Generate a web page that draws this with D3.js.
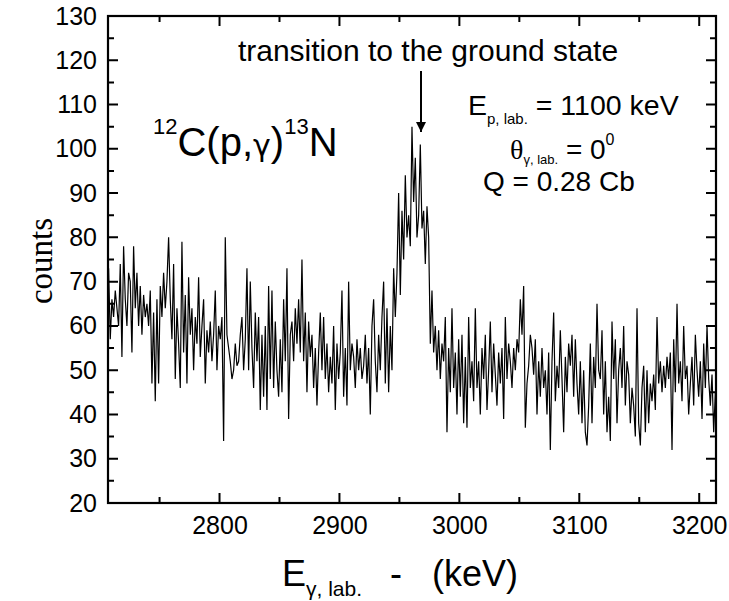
<!DOCTYPE html>
<html>
<head>
<meta charset="utf-8">
<script src="https://cdn.jsdelivr.net/npm/d3@7"></script>
<style>
  body { margin: 0; background: #fff; overflow: hidden; }
  svg { display: block; }
  text { font-family: Arial, "Liberation Sans", sans-serif; fill: #000; }
</style>
</head>
<body>
<svg width="729" height="601"></svg>
<script>
// spectrum channels: energy of channel i = startEnergy + i * keVPerChannel
let startEnergy = 2707.5;
let keVPerChannel = 1.39;
let counts = [
  // 2707 - 2808
  73, 57, 66, 62, 68, 64, 60, 74, 53, 78, 66, 60, 72, 70, 54, 78, 64, 72, 60, 69,
  58, 67, 62, 65, 60, 68, 47, 63, 43, 66, 47, 69, 62, 72, 64, 70, 80, 66, 57, 74,
  48, 64, 56, 46, 79, 54, 67, 47, 71, 58, 64, 50, 62, 56, 71, 53, 60, 66, 47, 59,
  54, 61, 52, 58, 68, 50, 60, 57, 62, 34, 80, 58, 55,
  // 2809 - 2910
  52, 48, 50, 56, 51, 52, 58, 62, 50, 57, 73, 50, 70, 55, 46, 63, 52, 62, 41, 58,
  44, 60, 41, 69, 48, 68, 46, 61, 50, 44, 57, 45, 66, 52, 73, 39, 58, 61, 52, 64,
  56, 66, 54, 75, 52, 63, 45, 61, 53, 58, 46, 55, 42, 54, 63, 50, 62, 48, 56, 45,
  53, 47, 60, 41, 56, 48, 54, 68, 44, 55, 42, 70, 50, 56,
  // 2911 - 3013 (peak)
  53, 46, 57, 50, 55, 48, 51, 58, 47, 55, 40, 60, 66, 52, 45, 58, 50, 62, 70, 47,
  64, 45, 60, 50, 73, 62, 72, 90, 67, 86, 75, 94, 80, 85, 78, 105, 88, 98, 80, 85,
  101, 82, 86, 74, 87, 80, 56, 68, 54, 60, 50, 59, 48, 56, 52, 62, 36, 55, 45, 64,
  46, 54, 40, 57, 44, 58, 38, 53, 37, 62, 46, 52, 43, 64,
  // 3014 - 3116
  46, 52, 40, 55, 48, 58, 41, 50, 61, 45, 56, 49, 42, 54, 47, 55, 39, 62, 48, 56,
  52, 46, 55, 50, 57, 54, 66, 58, 69, 37, 47, 51, 58, 55, 49, 57, 40, 52, 44, 55,
  46, 50, 40, 54, 32, 52, 63, 43, 51, 46, 59, 48, 36, 53, 45, 56, 51, 58, 44, 57,
  47, 40, 52, 38, 50, 36, 33, 42, 56, 38, 53, 46, 65, 50,
  // 3117 - 3214
  48, 59, 40, 52, 36, 44, 34, 61, 48, 57, 38, 50, 55, 46, 60, 42, 52, 49, 38, 46,
  42, 35, 64, 38, 33, 46, 51, 36, 50, 38, 47, 43, 49, 41, 62, 47, 52, 45, 51, 46,
  53, 48, 54, 32, 57, 45, 65, 47, 52, 43, 60, 48, 51, 40, 47, 53, 42, 58, 50, 44,
  52, 39, 56, 46, 60, 48, 42, 49, 36, 45, 35
];

let xTicks = [2800, 2900, 3000, 3100, 3200];
let xMinor = [2750, 2850, 2950, 3050, 3150];
let yTicks = [20, 30, 40, 50, 60, 70, 80, 90, 100, 110, 120, 130];
let yMinor = [25, 35, 45, 55, 65, 75, 85, 95, 105, 115, 125];

let svg = d3.select('svg');
let plotL = 108, plotR = 716, plotT = 16, plotB = 503;

let x = d3.scaleLinear().domain([2707, 3214]).range([plotL, plotR]);
let y = d3.scaleLinear().domain([20, 130]).range([plotB, plotT]);

svg.append('clipPath').attr('id', 'plot')
   .append('rect')
   .attr('x', plotL).attr('y', plotT)
   .attr('width', plotR - plotL).attr('height', plotB - plotT);

// spectrum
let line = d3.line()
  .x((d, i) => x(startEnergy + i * keVPerChannel))
  .y(d => y(d));

svg.append('path')
   .datum(counts)
   .attr('clip-path', 'url(#plot)')
   .attr('d', line)
   .attr('fill', 'none')
   .attr('stroke', '#000')
   .attr('stroke-width', 1.2)
   .attr('stroke-linejoin', 'miter');

// tick labels from d3 axes (tick marks drawn below)
let fmt = d3.format('d');
let styleAxis = g => {
  g.select('.domain').remove();
  g.selectAll('.tick line').remove();
  g.selectAll('text').style('font-family', 'Arial, "Liberation Sans", sans-serif')
   .style('font-size', '25px').attr('fill', '#000');
};

svg.append('g').attr('transform', `translate(0,${plotB})`)
   .call(d3.axisBottom(x).tickValues(xTicks).tickSize(0).tickPadding(13).tickFormat(fmt))
   .call(styleAxis);
svg.append('g').attr('transform', `translate(${plotL},0)`)
   .call(d3.axisLeft(y).tickValues(yTicks).tickSize(0).tickPadding(11).tickFormat(fmt))
   .call(styleAxis);

// inward tick marks on all four sides
let xTickMarks = xTicks.map(v => ({v, len: 10})).concat(xMinor.map(v => ({v, len: 6})));
let yTickMarks = yTicks.map(v => ({v, len: 10})).concat(yMinor.map(v => ({v, len: 6})));
let tickPath = '';
xTickMarks.forEach(d => {
  tickPath += `M${x(d.v)},${plotB}V${plotB - d.len}`;
  tickPath += `M${x(d.v)},${plotT}V${plotT + d.len}`;
});
yTickMarks.forEach(d => {
  tickPath += `M${plotL},${y(d.v)}H${plotL + d.len}`;
  tickPath += `M${plotR},${y(d.v)}H${plotR - d.len}`;
});
svg.append('path')
   .attr('d', tickPath)
   .attr('fill', 'none')
   .attr('stroke', '#000')
   .attr('stroke-width', 2);

// frame
svg.append('rect')
   .attr('x', plotL).attr('y', plotT)
   .attr('width', plotR - plotL).attr('height', plotB - plotT)
   .attr('fill', 'none').attr('stroke', '#000').attr('stroke-width', 2.2);

// axis titles
svg.append('text')
   .attr('transform', 'translate(52,261) rotate(-90)')
   .attr('text-anchor', 'middle')
   .style('font-family', '"Liberation Serif", "Times New Roman", serif')
   .style('font-size', '33px')
   .text('counts');

let xt = svg.append('text').attr('x', 282).attr('y', 586).style('font-size', '36px');
xt.append('tspan').text('E');
xt.append('tspan').attr('dy', 10).style('font-size', '21px').text('γ, lab.');
xt.append('tspan').attr('dy', -10).attr('x', 390).text('-');
xt.append('tspan').attr('x', 432).text('(keV)');

// annotations
svg.append('text')
   .attr('x', 428).attr('y', 61)
   .attr('text-anchor', 'middle')
   .style('font-size', '30px')
   .text('transition to the ground state');

svg.append('defs').append('marker')
   .attr('id', 'head').attr('viewBox', '0 0 10 10')
   .attr('refX', 10).attr('refY', 5)
   .attr('markerWidth', 5).attr('markerHeight', 5)
   .attr('markerUnits', 'strokeWidth')
   .attr('orient', 'auto')
   .append('path').attr('d', 'M0,0 L10,5 L0,10 Z').attr('fill', '#000');

svg.append('line')
   .attr('x1', 421).attr('y1', 71).attr('x2', 421).attr('y2', 132)
   .attr('stroke', '#000').attr('stroke-width', 2)
   .attr('marker-end', 'url(#head)');

let rx = svg.append('text').attr('x', 153).attr('y', 156).style('font-size', '40px');
rx.append('tspan').attr('dy', -22).style('font-size', '22px').text('12');
rx.append('tspan').attr('dy', 22).text('C(p,');
rx.append('tspan').style('font-family', '"DejaVu Sans", sans-serif').style('font-size', '30px').text('γ');
rx.append('tspan').text(')');
rx.append('tspan').attr('dy', -22).style('font-size', '22px').text('13');
rx.append('tspan').attr('dy', 22).text('N');

let ep = svg.append('text').attr('x', 468).attr('y', 115).style('font-size', '28.5px');
ep.append('tspan').text('E');
ep.append('tspan').attr('dy', 9).style('font-size', '15px').text('p, lab.');
ep.append('tspan').attr('dy', -9).text(' = 1100 keV');

let th = svg.append('text').attr('x', 510).attr('y', 159).style('font-size', '28px');
th.append('tspan').style('font-family', '"Liberation Serif", serif').text('θ');
th.append('tspan').attr('dy', 5).style('font-size', '13px').text('γ, lab.');
th.append('tspan').attr('dy', -5).text(' = 0');
th.append('tspan').attr('dy', -14).style('font-size', '16px').text('0');

svg.append('text')
   .attr('x', 483).attr('y', 191)
   .style('font-size', '28px')
   .text('Q = 0.28 Cb');
</script>
</body>
</html>
